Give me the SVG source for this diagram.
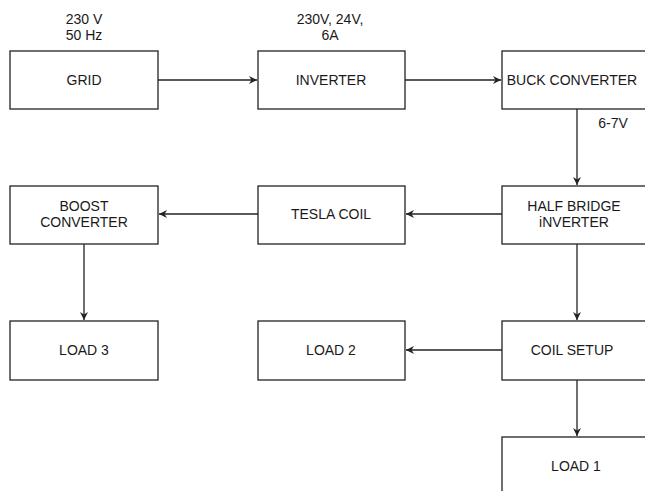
<svg xmlns="http://www.w3.org/2000/svg" width="645" height="491" viewBox="0 0 645 491">
<style>
.box{fill:#fff;stroke:#222;stroke-width:1.3}
.t{font-family:"Liberation Sans",Arial,sans-serif;font-size:14px;fill:#1a1a1a;text-anchor:middle}
.c{fill:none;stroke:#222;stroke-width:1.3}
</style>
<defs>
<marker id="ah" markerWidth="10" markerHeight="10" refX="8" refY="5" orient="auto" markerUnits="userSpaceOnUse">
<path d="M0,1 L8,5 L0,9 L2.5,5 Z" fill="#222"/>
</marker>
</defs>
<rect width="645" height="491" fill="#fff"/>
<g id="labels">
<text class="t" x="84" y="24">230 V</text>
<text class="t" x="84" y="40">50 Hz</text>
<text class="t" x="330" y="24">230V, 24V,</text>
<text class="t" x="330" y="40">6A</text>
<text class="t" x="613" y="128">6-7V</text>
</g>
<g id="connectors">
<path class="c" d="M158,80 H257" marker-end="url(#ah)"/>
<path class="c" d="M405,80 H501" marker-end="url(#ah)"/>
<path class="c" d="M577,109 V185" marker-end="url(#ah)"/>
<path class="c" d="M502,214 H406" marker-end="url(#ah)"/>
<path class="c" d="M258,214 H159" marker-end="url(#ah)"/>
<path class="c" d="M84,244 V320" marker-end="url(#ah)"/>
<path class="c" d="M577,244 V320" marker-end="url(#ah)"/>
<path class="c" d="M502,350 H406" marker-end="url(#ah)"/>
<path class="c" d="M577,380 V436" marker-end="url(#ah)"/>
</g>
<g id="grid"><rect class="box" x="10" y="51" width="148" height="58"/><text class="t" x="84" y="85">GRID</text></g>
<g id="inverter"><rect class="box" x="258" y="51" width="147" height="58"/><text class="t" x="331" y="85">INVERTER</text></g>
<g id="buck"><rect class="box" x="502" y="51" width="150" height="58"/><text class="t" x="572" y="85">BUCK CONVERTER</text></g>
<g id="halfbridge"><rect class="box" x="502" y="186" width="150" height="58"/><text class="t" x="574" y="211">HALF BRIDGE</text><text class="t" x="574" y="227">iNVERTER</text></g>
<g id="tesla"><rect class="box" x="258" y="186" width="147" height="58"/><text class="t" x="331" y="219">TESLA COIL</text></g>
<g id="boost"><rect class="box" x="10" y="186" width="148" height="58"/><text class="t" x="84" y="211">BOOST</text><text class="t" x="84" y="227">CONVERTER</text></g>
<g id="load3"><rect class="box" x="10" y="321" width="148" height="59"/><text class="t" x="84" y="355">LOAD 3</text></g>
<g id="load2"><rect class="box" x="258" y="321" width="147" height="59"/><text class="t" x="331" y="355">LOAD 2</text></g>
<g id="coilsetup"><rect class="box" x="502" y="321" width="150" height="59"/><text class="t" x="572" y="355">COIL SETUP</text></g>
<g id="load1"><rect class="box" x="502" y="437" width="150" height="60"/><text class="t" x="576" y="471">LOAD 1</text></g>
</svg>
